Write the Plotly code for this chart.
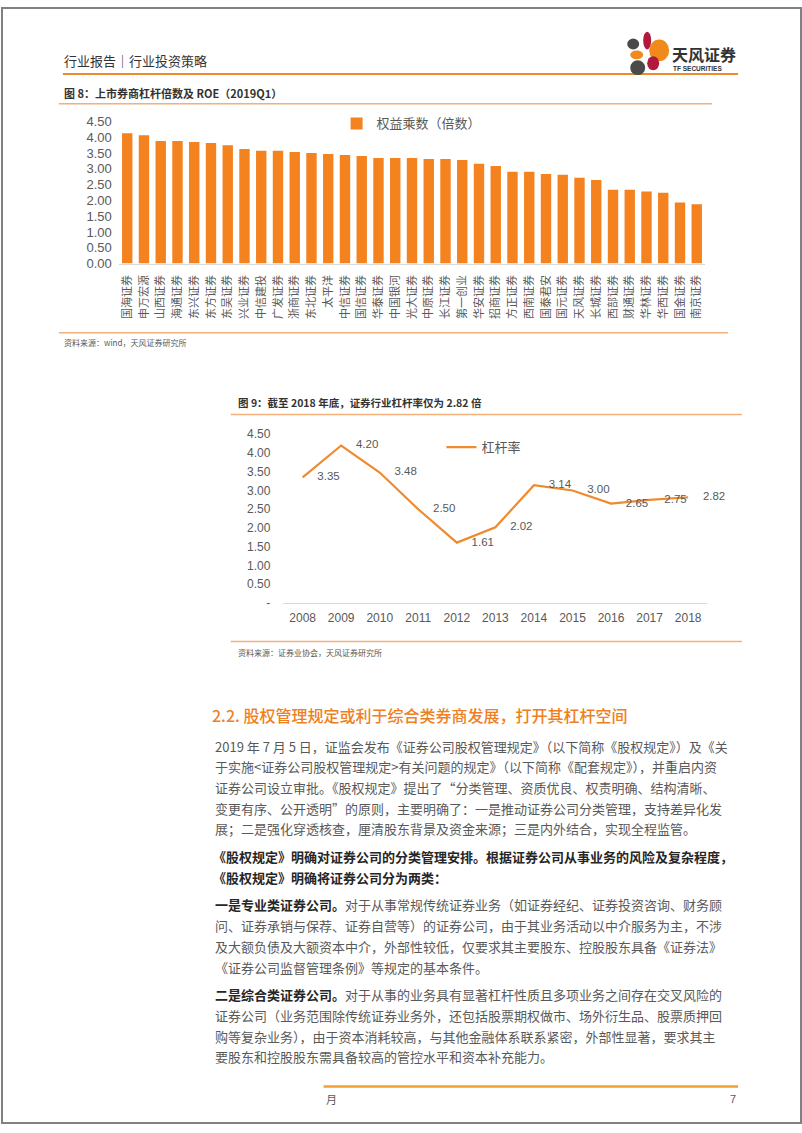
import plotly.graph_objects as go

W, H = 802, 1133

def px(x):
    return x / W

def py(y):
    return 1 - y / H

# ---------------- data ----------------
brokers = ["国海证券", "申万宏源", "山西证券", "海通证券", "东兴证券", "东方证券", "东吴证券",
           "兴业证券", "中信建投", "广发证券", "浙商证券", "东北证券", "太平洋", "中信证券",
           "国信证券", "华泰证券", "中国银河", "光大证券", "中原证券", "长江证券", "第一创业",
           "华安证券", "招商证券", "方正证券", "西南证券", "国泰君安", "国元证券", "天风证券",
           "长城证券", "西部证券", "财通证券", "华林证券", "华西证券", "国金证券", "南京证券"]
equity_multiplier = [4.13, 4.06, 3.88, 3.88, 3.85, 3.82, 3.75, 3.63, 3.57, 3.57, 3.53, 3.50,
                     3.47, 3.44, 3.41, 3.34, 3.34, 3.34, 3.31, 3.31, 3.28, 3.16, 3.09, 2.91,
                     2.91, 2.84, 2.81, 2.72, 2.65, 2.34, 2.34, 2.28, 2.24, 1.93, 1.88]

years = ["2008", "2009", "2010", "2011", "2012", "2013", "2014", "2015", "2016", "2017", "2018"]
leverage = [3.35, 4.20, 3.48, 2.50, 1.61, 2.02, 3.14, 3.00, 2.65, 2.75, 2.82]

y_ticks = [0, 0.5, 1.0, 1.5, 2.0, 2.5, 3.0, 3.5, 4.0, 4.5]
bar_tick_text = ["0.00", "0.50", "1.00", "1.50", "2.00", "2.50", "3.00", "3.50", "4.00", "4.50"]
line_tick_text = ["-", "0.50", "1.00", "1.50", "2.00", "2.50", "3.00", "3.50", "4.00", "4.50"]

ORANGE = "#F4821F"
LINE_ORANGE = "#F08A2E"
GREY_TXT = "#595959"
NUM_FONT = "Liberation Sans, Arial, sans-serif"
CJK = "Noto Sans CJK SC, sans-serif"

fig = go.Figure()

fig.add_trace(go.Bar(
    x=brokers, y=equity_multiplier, name="权益乘数（倍数）",
    marker=dict(color=ORANGE, line=dict(width=0)),
    xaxis="x", yaxis="y", legend="legend",
))

fig.add_trace(go.Scatter(
    x=years, y=leverage, name="杠杆率", mode="lines+markers+text",
    line=dict(color=LINE_ORANGE, width=2.2),
    marker=dict(size=22, color="rgba(0,0,0,0)"),
    text=[f"{v:.2f}" for v in leverage], textposition="middle right",
    textfont=dict(family=NUM_FONT, size=11.5, color=GREY_TXT),
    cliponaxis=False, xaxis="x2", yaxis="y2", legend="legend2",
))

shapes = []
annotations = []

def hline(x0, x1, y, color, width):
    shapes.append(dict(type="line", xref="paper", yref="paper", x0=px(x0), x1=px(x1),
                       y0=py(y), y1=py(y), line=dict(color=color, width=width)))

def text(x, y, s, size, color, bold=False, family=CJK, anchor="left", weight=None):
    f = dict(family=family, size=size, color=color)
    if weight is not None:
        f["weight"] = weight
    annotations.append(dict(xref="paper", yref="paper", x=px(x), y=py(y), text=(f"<b>{s}</b>" if bold else s),
                            showarrow=False, xanchor=anchor, yanchor="middle", font=f))

def ellipse(x0, x1, y0, y1, color):
    shapes.append(dict(type="circle", xref="paper", yref="paper", x0=px(x0), x1=px(x1),
                       y0=py(y1), y1=py(y0), fillcolor=color, line=dict(width=0)))

# page border
shapes.append(dict(type="rect", xref="paper", yref="paper", x0=px(1), x1=px(801), y0=py(1131), y1=py(1),
                   line=dict(color="#808080", width=2), fillcolor="rgba(0,0,0,0)"))

# header
text(61, 54, "行业报告｜行业投资策略", 13, "#333333")
hline(62, 738, 68, "#EE8A2A", 2)
# logo
ellipse(643, 651, 25, 43, "#B0193C")
ellipse(627, 639, 32, 43, "#4A4A4A")
ellipse(649, 669, 33, 55, "#F08A1C")
ellipse(630, 643, 44, 53, "#F08A1C")
ellipse(630, 645, 54, 69, "#4A4A4A")
ellipse(647, 659, 50, 64, "#B0193C")
text(670, 48, "天风证券", 16, "#333333", bold=True)
text(671, 62, "TF SECURITIES", 6.5, "#333333", bold=True, family=NUM_FONT)

# figure 8 title & frame lines
text(61, 87, "图 8：上市券商杠杆倍数及 ROE（2019Q1）", 11, "#333333", bold=True)
hline(58, 712, 98, "#F3B07A", 1.5)
hline(58, 728, 330, "#F3B07A", 1.5)
text(61, 340, "资料来源：wind，天风证券研究所", 8, GREY_TXT)

# figure 9 title & frame lines
text(235, 401, "图 9：截至 2018 年底，证券行业杠杆率仅为 2.82 倍", 10.5, "#333333", bold=True)
hline(230, 742, 413, "#F3B07A", 1.5)
hline(230, 742, 643, "#F3B07A", 1.5)
text(235, 654, "资料来源：证券业协会，天风证券研究所", 8, GREY_TXT)

# section heading
text(209, 718, "2.2. 股权管理规定或利于综合类券商发展，打开其杠杆空间", 16, "#EE8022", weight=500)

BODY = "#595959"
DARK = "#262626"
LS = 21
para1 = [
    "2019 年 7 月 5 日，证监会发布《证券公司股权管理规定》（以下简称《股权规定》）及《关",
    "于实施&lt;证券公司股权管理规定&gt;有关问题的规定》（以下简称《配套规定》），并重启内资",
    "证券公司设立审批。《股权规定》提出了“分类管理、资质优良、权责明确、结构清晰、",
    "变更有序、公开透明”的原则，主要明确了：一是推动证券公司分类管理，支持差异化发",
    "展；二是强化穿透核查，厘清股东背景及资金来源；三是内外结合，实现全程监管。",
]
for i, s in enumerate(para1):
    text(212, 749 + LS * i, s, 13, BODY)

para2 = [
    "《股权规定》明确对证券公司的分类管理安排。根据证券公司从事业务的风险及复杂程度，",
    "《股权规定》明确将证券公司分为两类：",
]
for i, s in enumerate(para2):
    text(210, 861 + LS * i, s, 13, DARK, bold=True)

para3 = [
    f"<span style='color:{DARK}'><b>一是专业类证券公司。</b></span>对于从事常规传统证券业务（如证券经纪、证券投资咨询、财务顾",
    "问、证券承销与保荐、证券自营等）的证券公司，由于其业务活动以中介服务为主，不涉",
    "及大额负债及大额资本中介，外部性较低，仅要求其主要股东、控股股东具备《证券法》",
    "《证券公司监督管理条例》等规定的基本条件。",
]
for i, s in enumerate(para3):
    text(212, 910 + LS * i, s, 13, BODY)

para4 = [
    f"<span style='color:{DARK}'><b>二是综合类证券公司。</b></span>对于从事的业务具有显著杠杆性质且多项业务之间存在交叉风险的",
    "证券公司（业务范围除传统证券业务外，还包括股票期权做市、场外衍生品、股票质押回",
    "购等复杂业务），由于资本消耗较高，与其他金融体系联系紧密，外部性显著，要求其主",
    "要股东和控股股东需具备较高的管控水平和资本补充能力。",
]
for i, s in enumerate(para4):
    text(212, 1001 + LS * i, s, 13, BODY)

# footer
hline(323, 738, 1094, "#F0A030", 2.5)
text(323, 1107, "月", 11, GREY_TXT)
text(738, 1107, "7", 11, GREY_TXT, family=NUM_FONT, anchor="right")

fig.update_layout(
    width=W, height=H, autosize=False,
    margin=dict(l=0, r=0, t=0, b=0, pad=0),
    paper_bgcolor="white", plot_bgcolor="white",
    shapes=shapes, annotations=annotations,
    showlegend=True,
    bargap=0.38,
    xaxis=dict(domain=[px(118), px(705)], anchor="y", type="category", range=[-0.5, 34.5],
               tickangle=-90, tickfont=dict(family=CJK, size=11, color=GREY_TXT),
               showline=True, linecolor="#D9D9D9", linewidth=1, ticks="", showgrid=False,
               ticklabelstandoff=6, fixedrange=True),
    yaxis=dict(domain=[py(260), py(116)], anchor="x", range=[0, 4.5],
               tickvals=y_ticks, ticktext=bar_tick_text,
               tickfont=dict(family=NUM_FONT, size=13, color=GREY_TXT),
               showgrid=False, zeroline=False, showline=False, ticks="", ticklabelstandoff=6),
    xaxis2=dict(domain=[px(282.7), px(707.3)], anchor="y2", type="category", range=[-0.5, 10.5],
                tickfont=dict(family=NUM_FONT, size=12, color=GREY_TXT),
                showline=True, linecolor="#D9D9D9", linewidth=1, ticks="", showgrid=False,
                ticklabelstandoff=4),
    yaxis2=dict(domain=[py(604), py(433)], anchor="x2", range=[0, 4.5],
                tickvals=y_ticks, ticktext=line_tick_text,
                tickfont=dict(family=NUM_FONT, size=12, color=GREY_TXT),
                showgrid=False, zeroline=False, showline=False, ticks="", ticklabelstandoff=12),
    legend=dict(x=px(336), y=py(118), xanchor="left", yanchor="middle",
                font=dict(family=CJK, size=13, color=GREY_TXT), bgcolor="rgba(0,0,0,0)"),
    legend2=dict(x=px(441), y=py(446), xanchor="left", yanchor="middle",
                 font=dict(family=CJK, size=13, color=GREY_TXT), bgcolor="rgba(0,0,0,0)"),
)

fig.write_html("out.html", config={"displayModeBar": False},
               post_script="document.body.style.margin='0';document.body.style.overflow='hidden';")
